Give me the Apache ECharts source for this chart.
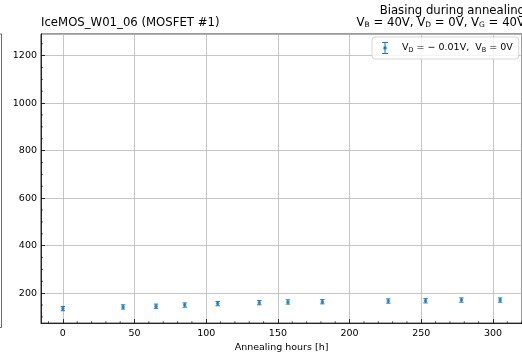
<!DOCTYPE html>
<html>
<head>
<meta charset="utf-8">
<script src="https://cdn.jsdelivr.net/npm/echarts@6/dist/echarts.min.js"></script>
<style>
  html, body { margin: 0; padding: 0; background: #fff; }
  #chart { width: 522px; height: 358px; }
</style>
</head>
<body>
<div id="chart"></div>
<script>
// Threshold-voltage-like readings of MOSFET #1 vs. annealing time
const hours  = [0, 42, 65, 85, 108, 137, 157, 181, 227, 253, 278, 305];
const values = [135, 142, 145, 150, 156, 160, 163, 164, 167, 168, 171, 171];
const errors = [9, 9, 9, 9, 9, 9, 9, 9, 9, 9, 9, 9];

const seriesName = 'VD = -0.01V, VB = 0V';

// axis ranges (matplotlib-style 5% padding)
const X_MIN = -15.25, X_MAX = 320.25;
const Y_MIN = 74, Y_MAX = 1291;
const X_MINOR = 10, Y_MINOR = 50;

const BLUE = '#1f77b4';
const FONT = 'DejaVu Sans';

const chart = echarts.init(document.getElementById('chart'), null, { renderer: 'canvas' });

const subRich = {
  s: { fontFamily: FONT, fontSize: 7.5, color: '#000', padding: [5, 0, 0, 0] }
};

const axisCommon = {
  axisLine: { show: true, onZero: false, lineStyle: { color: '#000', width: 0.8 } },
  axisTick: { show: true, inside: true, length: 4, lineStyle: { color: '#000', width: 0.8 } },
  splitLine: { show: true, lineStyle: { color: '#b8b8b8', width: 0.8 } }
};

const option = {
  animation: false,
  backgroundColor: '#fff',
  title: [
    {
      text: 'IceMOS_W01_06 (MOSFET #1)',
      left: 41, top: 17, padding: 0,
      textStyle: { fontFamily: FONT, fontSize: 11.7, fontWeight: 'normal', color: '#000' }
    }
  ],
  graphic: [
    {
      type: 'text', right: -3, top: 5,
      style: {
        text: 'Biasing during annealing',
        fontFamily: FONT, fontSize: 11.7, fill: '#000', textAlign: 'right'
      }
    },
    {
      type: 'text', right: -3, top: 17,
      style: {
        text: 'V{s|B} = 40V, V{s|D} = 0V, V{s|G} = 40V',
        fontFamily: FONT, fontSize: 11.7, fill: '#000', rich: subRich
      }
    },
    {
      // frame edge of the neighbouring panel
      type: 'polyline', silent: true,
      shape: { points: [[0, 34], [1.5, 34], [1.5, 327.5], [0, 327.5]] },
      style: { stroke: '#444', lineWidth: 0.8, fill: null }
    }
  ],
  legend: {
    left: 372, top: 37,
    padding: [5, 6, 5, 10],
    itemWidth: 6, itemHeight: 12, itemGap: 10,
    backgroundColor: 'rgba(255,255,255,0.8)',
    borderColor: '#cccccc', borderWidth: 0.8, borderRadius: 3,
    data: [{
      name: seriesName,
      icon: 'path://M0,0h6v1h-6z M2.5,1h1v10h-1z M0,11h6v1h-6z M1.5,4.5h3v3h-3z',
      itemStyle: { color: BLUE }
    }],
    formatter: () => '{g|}V{s|D} = − 0.01V,  V{s|B} = 0V',
    textStyle: {
      fontFamily: FONT, fontSize: 9.5, color: '#000',
      rich: {
        g: { width: 9 },
        s: { fontFamily: FONT, fontSize: 6.5, color: '#000', padding: [4, 0, 0, 0] }
      }
    }
  },
  grid: {
    left: 41, top: 34, width: 484, height: 293.5,
    show: true, borderColor: '#000', borderWidth: 0.8, backgroundColor: 'transparent'
  },
  xAxis: Object.assign({
    type: 'value', min: X_MIN, max: X_MAX, splitNumber: 7,
    name: 'Annealing hours [h]', nameLocation: 'middle', nameGap: 17,
    nameTextStyle: { fontFamily: FONT, fontSize: 9.5, color: '#000' },
    axisLabel: {
      margin: 5, fontFamily: FONT, fontSize: 9.5, color: '#000',
      showMinLabel: false, showMaxLabel: false, formatter: v => String(v)
    }
  }, axisCommon),
  yAxis: Object.assign({
    type: 'value', min: Y_MIN, max: Y_MAX, splitNumber: 6,
    axisLabel: {
      margin: 4, fontFamily: FONT, fontSize: 9.5, color: '#000',
      showMinLabel: false, showMaxLabel: false, formatter: v => String(v)
    }
  }, axisCommon),
  series: [
    {
      // minor ticks, placed on round multiples inside the axis ranges
      type: 'custom', silent: true, clip: false, z: 5,
      data: [[0, 0]],
      renderItem: (params, api) => {
        const children = [];
        const base = api.coord([X_MIN, Y_MIN]);
        for (let v = Math.ceil(X_MIN / X_MINOR) * X_MINOR; v < X_MAX; v += X_MINOR) {
          if (v % 50 === 0) continue;
          const p = api.coord([v, Y_MIN]);
          children.push({ type: 'line', shape: { x1: p[0], y1: base[1], x2: p[0], y2: base[1] - 2 },
            style: { stroke: '#000', lineWidth: 0.6 } });
        }
        for (let v = Math.ceil(Y_MIN / Y_MINOR) * Y_MINOR; v < Y_MAX; v += Y_MINOR) {
          if (v % 200 === 0) continue;
          const p = api.coord([X_MIN, v]);
          children.push({ type: 'line', shape: { x1: base[0], y1: p[1], x2: base[0] + 2, y2: p[1] },
            style: { stroke: '#000', lineWidth: 0.6 } });
        }
        return { type: 'group', children };
      }
    },
    {
      // error bars
      type: 'custom', name: seriesName, z: 3,
      data: hours.map((h, i) => [h, values[i] - errors[i], values[i] + errors[i]]),
      renderItem: (params, api) => {
        const lo = api.coord([api.value(0), api.value(1)]);
        const hi = api.coord([api.value(0), api.value(2)]);
        const cap = 2.2;
        const st = { stroke: BLUE, lineWidth: 1 };
        return {
          type: 'group',
          children: [
            { type: 'line', shape: { x1: lo[0], y1: lo[1], x2: hi[0], y2: hi[1] }, style: st },
            { type: 'line', shape: { x1: lo[0] - cap, y1: lo[1], x2: lo[0] + cap, y2: lo[1] }, style: st },
            { type: 'line', shape: { x1: hi[0] - cap, y1: hi[1], x2: hi[0] + cap, y2: hi[1] }, style: st }
          ]
        };
      }
    },
    {
      type: 'scatter', name: seriesName, z: 4,
      symbol: 'circle', symbolSize: 3.5,
      itemStyle: { color: BLUE },
      data: hours.map((h, i) => [h, values[i]])
    }
  ]
};

chart.setOption(option);
</script>
</body>
</html>
